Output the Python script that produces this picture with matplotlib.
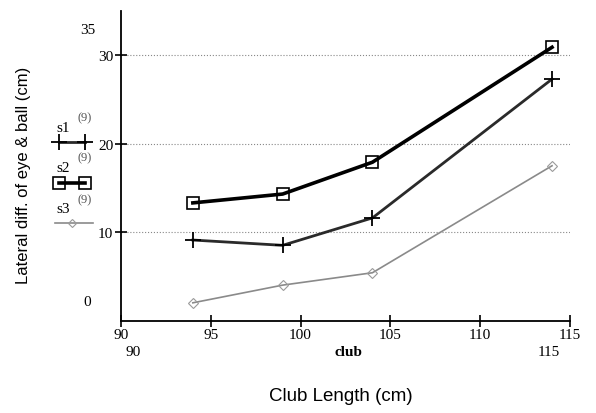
import matplotlib
matplotlib.use("Agg")
import matplotlib.pyplot as plt
from matplotlib.lines import Line2D

# values
club = [94, 99, 104, 114]
s1 = [9.1, 8.5, 11.6, 27.3]
s2 = [13.3, 14.3, 17.9, 30.9]
s3 = [2.0, 4.0, 5.4, 17.5]
xticks = [90, 95, 100, 105, 110, 115]
yticks = [10, 20, 30]

W, H = 596, 414
fig = plt.figure(figsize=(W / 100, H / 100), dpi=100)
ax = fig.add_axes([121 / W, 1 - 321.5 / H, (570 - 121) / W, (321.5 - 12) / H])

serif = "Liberation Serif"
sans = "Liberation Sans"

ax.plot(club, s3, color="#8a8a8a", lw=1.2, marker="D", ms=5, mfc="none", mec="#9a9a9a", mew=0.8)
ax.plot(club, s1, color="#2a2a2a", lw=2.0, marker="+", ms=12, mew=1.3, mec="black")
ax.plot(club, s2, color="black", lw=2.6, marker="s", ms=9, mfc="none", mec="black", mew=1.2)

ax.set_xlim(90, 115)
ax.set_ylim(0, 35)
ax.set_xticks(xticks)
ax.set_yticks(yticks)
ax.set_xticklabels([str(t) for t in xticks], family=serif, fontsize=11)
ax.set_yticklabels([str(t) for t in yticks], family=serif, fontsize=11)
ax.tick_params(axis="both", direction="inout", length=9, width=1.2, color="black", pad=1)
ax.grid(axis="y", linestyle=":", color="#888888", lw=0.8)
for s in ["top", "right"]:
    ax.spines[s].set_visible(False)
for s in ["left", "bottom"]:
    ax.spines[s].set_linewidth(1.3)

# odd extra labels of the original
fig.text(80 / W, 1 - 31 / H, "35", family=serif, fontsize=11, ha="left", va="center")
fig.text(83 / W, 1 - 303 / H, "0", family=serif, fontsize=11, ha="left", va="center")
fig.text(133 / W, 1 - 353 / H, "90", family=serif, fontsize=11, ha="center", va="center")
fig.text(348 / W, 1 - 353 / H, "club", family=serif, fontsize=11, ha="center", va="center", weight="bold")
fig.text(549 / W, 1 - 353 / H, "115", family=serif, fontsize=11, ha="center", va="center")

fig.text(341 / W, 1 - 397 / H, "Club Length (cm)", family=sans, fontsize=13.5, ha="center", va="center")
fig.text(24 / W, 1 - 175 / H, "Lateral diff. of eye & ball (cm)", family=sans, fontsize=12,
         rotation=90, ha="center", va="center")

# hand-drawn legend on the left
def fx(px):
    return px / W

def fy(py):
    return 1 - py / H

legend = [
    ("s1", 128, 143, dict(color="#2a2a2a", lw=2.0, marker="+", ms=12, mew=1.3, mec="black")),
    ("s2", 168, 184, dict(color="black", lw=2.6, marker="s", ms=9, mfc="none", mec="black", mew=1.2)),
    ("s3", 210, 224, dict(color="#8a8a8a", lw=1.2, marker="D", ms=4, mfc="none", mec="#9a9a9a", mew=0.8)),
]
for name, ty, ly, style in legend:
    fig.text(fx(56), fy(ty), name, family=serif, fontsize=11, ha="left", va="center")
    fig.text(fx(77), fy(ty - 10), "(9)", family=serif, fontsize=9, ha="left", va="center", color="#555555")
    if name == "s3":
        fig.add_artist(Line2D([fx(55), fx(93)], [fy(ly), fy(ly)], color=style["color"], lw=style["lw"]))
        fig.add_artist(Line2D([fx(72)], [fy(ly)], ls="none", **{k: v for k, v in style.items() if k not in ("color", "lw")}))
    else:
        fig.add_artist(Line2D([fx(59), fx(85)], [fy(ly), fy(ly)], **style))

fig.savefig("out.png", dpi=100)
